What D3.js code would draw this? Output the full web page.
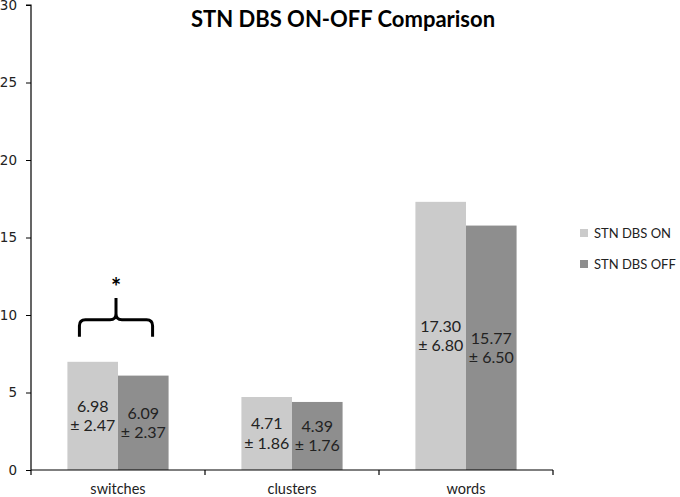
<!DOCTYPE html>
<html><head><meta charset="utf-8">
<script src="https://cdn.jsdelivr.net/npm/d3@7"></script>
<style>body{margin:0;background:#fff}svg{display:block}</style>
</head><body><svg id="c" width="680" height="497"></svg>
<script>
const categories = ["switches", "clusters", "words"];
const seriesNames = ["STN DBS ON", "STN DBS OFF"];
const onMeans = [6.98, 4.71, 17.30];
const offMeans = [6.09, 4.39, 15.77];
const onSD = [2.47, 1.86, 6.80];
const offSD = [2.37, 1.76, 6.50];
const yTicks = [0, 5, 10, 15, 20, 25, 30];
const colors = ["#cbcbcb", "#8e8e8e"];

const svg = d3.select("#c");
const font = "Lato, 'Open Sans', sans-serif";
const m = {l: 31, r: 127, t: 5, b: 27};
const W = 680, H = 497;
const x = d3.scaleBand().domain(categories).range([m.l, W - m.r]).paddingInner(0).paddingOuter(0);
const y = d3.scaleLinear().domain([0, 30]).range([H - m.b, m.t]);
const inner = d3.scaleBand().domain(seriesNames).range([0, x.bandwidth()]).paddingOuter(0.72).paddingInner(0);

// bars
const data = [];
categories.forEach((c, i) => {
  data.push({c, s: seriesNames[0], v: onMeans[i], sd: onSD[i], col: colors[0]});
  data.push({c, s: seriesNames[1], v: offMeans[i], sd: offSD[i], col: colors[1]});
});
svg.append("g").selectAll("rect").data(data).join("rect")
  .attr("x", d => x(d.c) + inner(d.s))
  .attr("width", inner.bandwidth())
  .attr("y", d => y(d.v))
  .attr("height", d => y(0) - y(d.v))
  .attr("fill", d => d.col);

// value labels
const lab = svg.append("g").attr("font-family", font).attr("font-size", 16).attr("fill", "#222").attr("text-anchor", "middle");
data.forEach(d => {
  const cx = x(d.c) + inner(d.s) + inner.bandwidth() / 2;
  const cy = (y(d.v) + y(0)) / 2;
  const t = lab.append("text").attr("x", cx).attr("y", cy);
  t.append("tspan").attr("x", cx).attr("dy", "-0.25em").text(d.v.toFixed(2));
  t.append("tspan").attr("x", cx).attr("dy", "1.2em").text("± " + d.sd.toFixed(2));
});

// axes
const yAxis = d3.axisLeft(y).tickValues(yTicks).tickSize(5).tickPadding(9).tickFormat(d3.format("d"));
const gy = svg.append("g").attr("transform", `translate(${m.l},0)`).call(yAxis);
gy.select(".domain").attr("stroke", "#000").attr("stroke-width", 1.2).attr("d", `M-5,${y(30)}H0V${y(0)}`);
gy.selectAll("text").attr("font-family", "'DejaVu Sans', sans-serif").attr("font-size", 13.5).attr("fill", "#222");

const gx = svg.append("g").attr("transform", `translate(0,${y(0)})`);
gx.append("line").attr("x1", m.l).attr("x2", W - m.r).attr("stroke", "#000").attr("stroke-width", 1.2);
const edges = categories.map(c => x(c)).concat([x(categories[categories.length - 1]) + x.bandwidth()]);
gx.selectAll("line.t").data(edges).join("line").attr("class", "t")
  .attr("x1", d => d).attr("x2", d => d).attr("y1", 0).attr("y2", 5).attr("stroke", "#000").attr("stroke-width", 1.2);
gx.selectAll("text").data(categories).join("text")
  .attr("x", d => x(d) + x.bandwidth() / 2).attr("y", 24)
  .attr("text-anchor", "middle").attr("font-family", font).attr("font-size", 14.5).attr("fill", "#222")
  .text(d => d);

// title
svg.append("text").attr("x", 343).attr("y", 27).attr("text-anchor", "middle")
  .attr("font-family", font).attr("font-weight", "bold").attr("font-size", 22).attr("fill", "#000")
  .text("STN DBS ON-OFF Comparison");

// significance bracket over switches
const c0 = categories[0];
const bx1 = x(c0) + inner(seriesNames[0]) + 12;
const bx2 = x(c0) + inner(seriesNames[1]) + inner.bandwidth() - 16;
const bmid = (bx1 + bx2) / 2;
const yTip = y(8.6), yBar = y(9.7), yTop = y(11.1);
const r = 6;
svg.append("path").attr("fill", "none").attr("stroke", "#000").attr("stroke-width", 3)
  .attr("d", `M${bx1},${yTip} V${yBar + r} Q${bx1},${yBar} ${bx1 + r},${yBar} H${bmid - r} Q${bmid},${yBar} ${bmid},${yBar - r} V${yTop} M${bmid},${yBar - r} Q${bmid},${yBar} ${bmid + r},${yBar} H${bx2 - r} Q${bx2},${yBar} ${bx2},${yBar + r} V${yTip}`);
svg.append("text").attr("x", bmid).attr("y", yTop - 2).attr("text-anchor", "middle")
  .attr("font-family", font).attr("font-weight", "bold").attr("font-size", 24).text("*");

// legend
const lg = svg.append("g").attr("font-family", font).attr("font-size", 13).attr("fill", "#222");
seriesNames.forEach((s, i) => {
  const ly = 233 + i * 31;
  lg.append("rect").attr("x", 580).attr("y", ly - 4).attr("width", 8).attr("height", 8).attr("fill", colors[i]);
  lg.append("text").attr("x", 594).attr("y", ly + 5).text(s);
});
</script></body></html>
